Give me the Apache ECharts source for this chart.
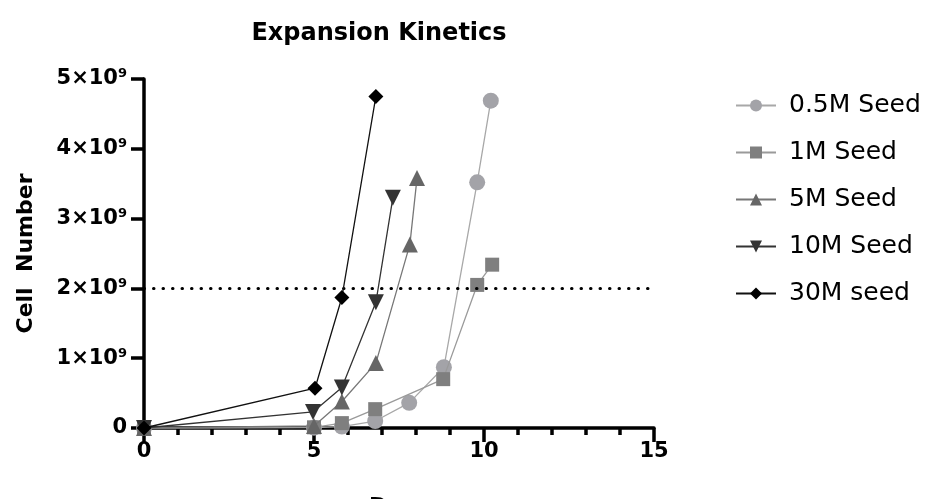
<!DOCTYPE html>
<html>
<head>
<meta charset="utf-8">
<script src="https://cdn.jsdelivr.net/npm/echarts@6/dist/echarts.min.js"></script>
<style>html,body{margin:0;padding:0;background:#fff}#c{width:928px;height:499px}</style>
</head>
<body>
<div id="c"></div>
<script>
const seriesNames = ['0.5M Seed', '1M Seed', '5M Seed', '10M Seed', '30M seed'];
const seed05Days = [0, 5, 5.82, 6.8, 7.8, 8.82, 9.8, 10.2];
const seed05Vals = [0, 0.005e9, 0.02e9, 0.1e9, 0.36e9, 0.87e9, 3.52e9, 4.69e9];
const seed1Days = [0, 5, 5.82, 6.8, 8.8, 9.8, 10.24];
const seed1Vals = [0, 0.01e9, 0.07e9, 0.27e9, 0.7e9, 2.05e9, 2.34e9];
const seed5Days = [0, 5, 5.82, 6.82, 7.82, 8.03];
const seed5Vals = [0, 0.03e9, 0.38e9, 0.93e9, 2.63e9, 3.58e9];
const seed10Days = [0, 4.97, 5.82, 6.82, 7.32];
const seed10Vals = [0, 0.23e9, 0.58e9, 1.8e9, 3.3e9];
const seed30Days = [0, 5.03, 5.82, 6.82];
const seed30Vals = [0, 0.57e9, 1.87e9, 4.75e9];
const thresholdValue = 2e9;
const xTicks = [0, 5, 10, 15];
const yTickLabels = ['0', '1×10{s|9}', '2×10{s|9}', '3×10{s|9}', '4×10{s|9}', '5×10{s|9}'];

const FONT = 'DejaVu Sans';
const zip = (xs, ys) => xs.map((x, i) => [x, ys[i]]);
const styles = [
  {symbol: 'circle', size: 16, color: '#a3a3a8', line: '#a8a8a8'},
  {symbol: 'rect', size: 14, color: '#7f7f7f', line: '#9a9a9a'},
  {symbol: 'triangle', size: 16, color: '#666666', line: '#777777'},
  {symbol: 'path://M0,0 L10,0 L5,9 Z', size: 16, color: '#333333', line: '#333333'},
  {symbol: 'diamond', size: 15, color: '#000000', line: '#111111'}
];
const dataSets = [zip(seed05Days, seed05Vals), zip(seed1Days, seed1Vals), zip(seed5Days, seed5Vals), zip(seed10Days, seed10Vals), zip(seed30Days, seed30Vals)];

const series = seriesNames.map((n, i) => ({
  name: n,
  type: 'line',
  data: dataSets[i],
  symbol: styles[i].symbol,
  symbolSize: styles[i].size,
  itemStyle: {color: styles[i].color},
  lineStyle: {color: styles[i].line, width: 1.3},
  z: 2 + i,
  animation: false
}));
series.push({
  name: 'threshold',
  type: 'line',
  data: [],
  markLine: {
    silent: true,
    symbol: 'none',
    label: {show: false},
    lineStyle: {color: '#000', type: [0.5, 9], width: 3, cap: 'round'},
    data: [[{coord: [0, thresholdValue]}, {coord: [xTicks[xTicks.length - 1], thresholdValue]}]]
  },
  animation: false
});

const chart = echarts.init(document.getElementById('c'));
chart.setOption({
  backgroundColor: '#fff',
  animation: false,
  title: {
    text: 'Expansion Kinetics',
    left: 374, top: 17, textAlign: 'center',
    textStyle: {fontFamily: FONT, fontSize: 24, fontWeight: 'bold', color: '#000'}
  },
  legend: {
    data: seriesNames,
    orient: 'vertical',
    left: 730, top: 88,
    itemGap: 22,
    itemWidth: 40, itemHeight: 15,
    textStyle: {fontFamily: FONT, fontSize: 25, color: '#000', padding: [0, 0, 0, 8]}
  },
  grid: {left: 144, right: 274, top: 79, bottom: 71, containLabel: false, outerBoundsMode: 'none'},
  xAxis: {
    type: 'value', min: 0, max: 15, interval: 5,
    name: 'Days', nameLocation: 'middle', nameGap: 68,
    nameTextStyle: {fontFamily: FONT, fontSize: 22, fontWeight: 'bold', color: '#000'},
    axisLine: {show: true, onZero: false, lineStyle: {color: '#000', width: 3.5}},
    axisTick: {show: true, length: 14, lineStyle: {color: '#000', width: 3.5}},
    minorTick: {show: true, splitNumber: 5, length: 7, lineStyle: {color: '#000', width: 3.5}},
    splitLine: {show: false},
    axisLabel: {margin: 13, fontFamily: FONT, fontSize: 21, fontWeight: 'bold', color: '#000'}
  },
  yAxis: {
    type: 'value', min: 0, max: 5e9, interval: 1e9,
    name: 'Cell  Number', nameLocation: 'middle', nameGap: 107, nameRotate: 90,
    nameTextStyle: {fontFamily: FONT, fontSize: 22, fontWeight: 'bold', color: '#000'},
    axisLine: {show: true, lineStyle: {color: '#000', width: 3.5}},
    axisTick: {show: true, length: 13, lineStyle: {color: '#000', width: 3.5}},
    splitLine: {show: false},
    axisLabel: {
      margin: 17,
      formatter: (v, i) => yTickLabels[i],
      fontFamily: FONT, fontSize: 21, fontWeight: 'bold', color: '#000',
      rich: {
        s: {fontSize: 13, fontWeight: 'bold', color: '#000', fontFamily: FONT, verticalAlign: 'top', padding: [0, 0, 10, 0]}
      }
    }
  },
  series: series
});
</script>
</body>
</html>
